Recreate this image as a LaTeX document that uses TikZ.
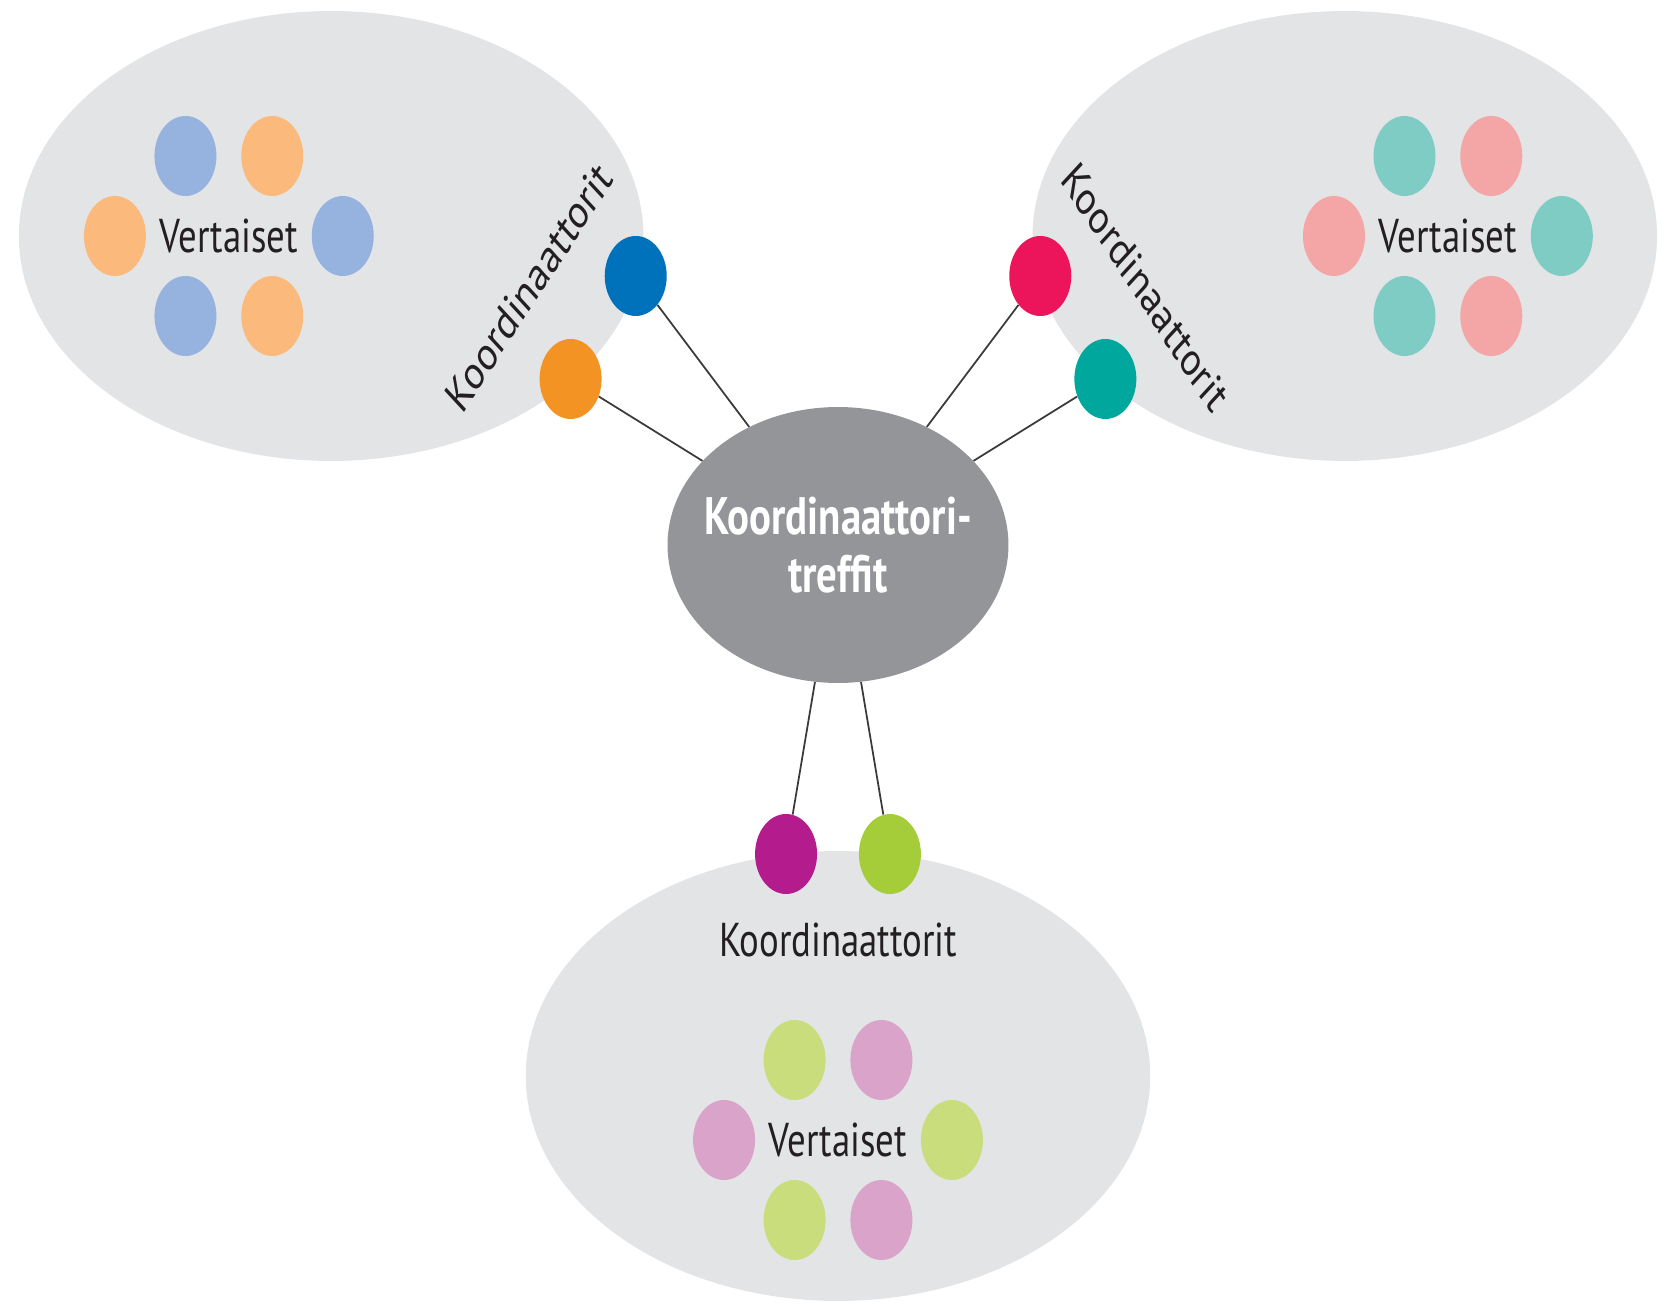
\documentclass[tikz,border=0pt]{standalone}
\usepackage{fontspec}
\setmainfont{PT Sans}
\usetikzlibrary{shapes.geometric}
\definecolor{groupGrey}{HTML}{E3E4E6}
\definecolor{hubGrey}{HTML}{939598}
\definecolor{inkDark}{HTML}{231F20}
\definecolor{lineDark}{HTML}{3A3A3A}
\definecolor{coordBlue}{HTML}{0072BC}
\definecolor{coordOrange}{HTML}{F39323}
\definecolor{coordRed}{HTML}{EC145A}
\definecolor{coordTeal}{HTML}{00A79D}
\definecolor{coordMagenta}{HTML}{B41C8E}
\definecolor{coordGreen}{HTML}{A5CD39}
\definecolor{peerLa}{HTML}{95B3DE}
\definecolor{peerLb}{HTML}{FBBA7B}
\definecolor{peerRa}{HTML}{7FCCC5}
\definecolor{peerRb}{HTML}{F4A5A6}
\definecolor{peerBa}{HTML}{C9DD7D}
\definecolor{peerBb}{HTML}{DAA3CA}
\tikzset{
  peerGroup/.style={ellipse,fill=groupGrey,minimum width=16.12cm,minimum height=9cm,inner sep=0pt},
  hub/.style={ellipse,fill=hubGrey,minimum width=8.8cm,minimum height=5.52cm,
    inner ysep=0pt,inner xsep=-0.7cm,
    text=white,align=center,font=\fontsize{30}{33}\selectfont\bfseries},
  coordDot/.style={circle,minimum size=1.6cm,inner sep=0pt},
  peerDot/.style={circle,minimum size=1.6cm,inner sep=0pt},
  peerText/.style={text=inkDark,font=\fontsize{27}{30}\selectfont},
  link/.style={draw=lineDark,line width=1pt}
}

\begin{document}
\begin{tikzpicture}[x=0.02cm,y=0.02cm]
  \useasboundingbox (-838,-759) rectangle (830,545);
  \begin{scope}[xscale=0.775,every node/.append style={transform shape}]
    % the three peer groups
    \node[peerGroup] (groupL) at (-654,309) {};
    \node[peerGroup] (groupR) at (654,309) {};
    \node[peerGroup] (groupB) at (0,-531) {};

    \foreach \g/\gx/\gy in {L/-786/309, R/787/309, B/0/-595}{%
      \foreach \i/\dx/\dy/\k in {1/-56/80/a, 2/56/80/b, 3/-147/0/b,
                                 4/147/0/a, 5/-56/-80/a, 6/56/-80/b}{%
        \node[peerDot,fill=peer\g\k] (peer\g\i) at ({\gx+\dx},{\gy+\dy}) {};
      }
      \node[peerText] (vert\g) at (\gx,\gy) {Vertaiset};
    }

    % coordinators
    \node[hub] (hub) at (0,0) {Koordinaattori-\\treffit};
    \node[coordDot,fill=coordBlue] (kBlue) at (-261,269) {};
    \node[coordDot,fill=coordOrange] (kOrange) at (-345,166) {};
    \node[coordDot,fill=coordRed] (kRed) at (261,269) {};
    \node[coordDot,fill=coordTeal] (kTeal) at (345,166) {};
    \node[coordDot,fill=coordMagenta] (kMagenta) at (-67,-309) {};
    \node[coordDot,fill=coordGreen] (kGreen) at (67,-309) {};

    \node[peerText,rotate=50] (koordL) at (-399,258) {Koordinaattorit};
    \node[peerText,rotate=-50] (koordR) at (397,258) {Koordinaattorit};
    \node[peerText] (koordB) at (0,-395) {Koordinaattorit};

    \foreach \k in {kBlue,kOrange,kRed,kTeal,kMagenta,kGreen}
      \draw[link] (\k) -- (hub);
  \end{scope}
\end{tikzpicture}
\end{document}
